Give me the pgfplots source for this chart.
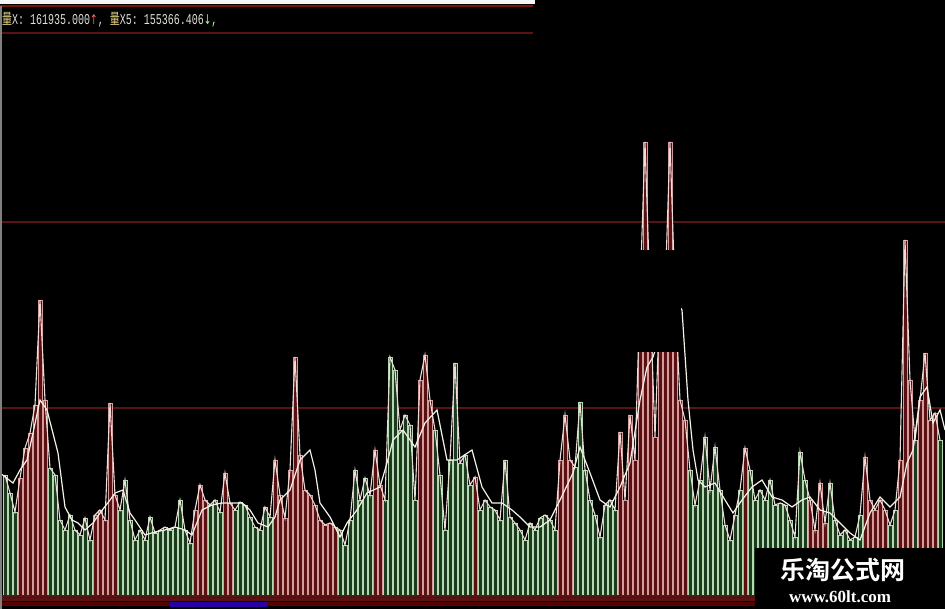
\documentclass[border=0pt]{standalone}
\usepackage{pgfplots}
\pgfplotsset{compat=1.18}
\usepackage{fontspec}
\setmainfont{Liberation Sans}
\newfontfamily\monof{Liberation Mono}
\newfontfamily\symf{DejaVu Sans}
\newfontfamily\cjk{Noto Sans CJK SC}
\newfontfamily\cjkb{Noto Sans CJK SC}[BoldFont={Noto Sans CJK SC Bold}]
\newfontfamily\serifb{Liberation Serif}
\definecolor{redfill}{HTML}{5A1010}
\definecolor{rededge}{HTML}{D49C9C}
\definecolor{greenfill}{HTML}{1C3A1E}
\definecolor{greenedge}{HTML}{B4D8B0}
\definecolor{gridred}{HTML}{581414}
\definecolor{volline}{HTML}{EEDCD8}
\definecolor{maline}{HTML}{F2F2E6}
\definecolor{gold}{HTML}{E6D488}
\definecolor{txt}{HTML}{E0E0D8}
\begin{document}
\begin{tikzpicture}
\begin{axis}[
  width=945pt, height=609pt, scale only axis,
  xmin=0, xmax=945, ymin=-14, ymax=595,
  hide axis, clip=true,
]
% background
\fill[black] (rel axis cs:0,0) rectangle (rel axis cs:1,1);
% grid lines
\draw[gridred, line width=2pt] (axis cs:0,373) -- (axis cs:945,373);
\draw[gridred, line width=2pt] (axis cs:0,187) -- (axis cs:945,187);
\draw[gridred, line width=1.5pt] (axis cs:0,562) -- (axis cs:533,562);
\fill[white!92!gray] (axis cs:0,595) rectangle (axis cs:535,591);
\draw[gridred!80!red, line width=1.5pt] (axis cs:0,589) -- (axis cs:533,589);
% red bars
\addplot[ybar, bar width=3.6, bar shift=0pt, fill=redfill, draw=rededge, line width=0.6pt] coordinates {
(20,117)(25,147)(30,162)(35,190)(40,295)(45,195)(95,80)(100,85)(105,75)(110,192)(115,100)
(195,85)(200,110)(205,95)(225,122)(230,92)(275,135)(280,100)(285,77)(290,125)(295,238)(300,140)
(305,105)(310,100)(315,90)(320,75)(325,70)(330,72)(335,68)(375,145)(380,110)(420,215)(425,240)
(430,195)(475,118)(560,135)(565,180)(570,135)(620,163)(625,95)(630,180)(635,135)(640,300)(645,453)
(650,300)(655,158)(660,300)(665,300)(670,453)(675,300)(680,195)(685,175)(745,147)(810,95)(815,65)
(820,112)(825,72)(865,138)(870,95)(875,85)(880,95)(885,85)(900,135)(905,355)(910,215)(920,195)
(925,242)(930,175)(935,182)};
% green bars
\addplot[ybar, bar width=3.6, bar shift=0pt, fill=greenfill, draw=greenedge, line width=0.6pt] coordinates {
(5,120)(10,102)(15,83)(50,127)(55,120)(60,75)(65,65)(70,80)(75,65)(80,60)(85,77)(90,55)(120,85)
(125,115)(130,75)(135,55)(140,65)(145,55)(150,78)(155,62)(160,65)(165,68)(170,65)(175,68)(180,95)
(185,65)(190,52)(210,90)(215,95)(220,83)(235,85)(240,93)(245,90)(250,78)(255,68)(260,65)(265,88)
(270,78)(340,65)(345,50)(350,75)(355,125)(360,95)(365,117)(370,100)(385,95)(390,238)(395,225)
(400,165)(405,180)(410,170)(415,95)(435,165)(440,120)(445,65)(450,135)(455,232)(460,132)(465,140)
(470,110)(480,85)(485,95)(490,88)(495,85)(500,75)(505,135)(510,78)(515,72)(520,65)(525,55)(530,72)
(535,65)(540,77)(545,80)(550,75)(555,65)(575,128)(580,193)(585,125)(590,95)(595,80)(600,58)(605,90)
(610,95)(615,85)(690,125)(695,90)(700,115)(705,158)(710,105)(715,148)(720,105)(725,70)(730,55)
(735,80)(740,105)(750,125)(755,95)(760,105)(765,95)(770,115)(775,90)(780,92)(785,90)(790,75)
(795,58)(800,143)(805,115)(830,112)(835,75)(840,60)(845,65)(850,55)(855,58)(860,80)(890,70)
(895,85)(915,155)(940,155)};
% volume line
\addplot[volline, line width=1.1pt, mark=none] coordinates {
(5,120)(10,102)(15,83)(20,117)(25,147)(30,162)(35,190)(40,295)(45,195)(50,127)(55,120)(60,75)
(65,65)(70,80)(75,65)(80,60)(85,77)(90,55)(95,80)(100,85)(105,75)(110,192)(115,100)(120,85)
(125,115)(130,75)(135,55)(140,65)(145,55)(150,78)(155,62)(160,65)(165,68)(170,65)(175,68)(180,95)
(185,65)(190,52)(195,85)(200,110)(205,95)(210,90)(215,95)(220,83)(225,122)(230,92)(235,85)(240,93)
(245,90)(250,78)(255,68)(260,65)(265,88)(270,78)(275,135)(280,100)(285,77)(290,125)(295,238)
(300,140)(305,105)(310,100)(315,90)(320,75)(325,70)(330,72)(335,68)(340,65)(345,50)(350,75)
(355,125)(360,95)(365,117)(370,100)(375,145)(380,110)(385,95)(390,238)(395,225)(400,165)(405,180)
(410,170)(415,95)(420,215)(425,240)(430,195)(435,165)(440,120)(445,65)(450,135)(455,232)(460,132)
(465,140)(470,110)(475,118)(480,85)(485,95)(490,88)(495,85)(500,75)(505,135)(510,78)(515,72)
(520,65)(525,55)(530,72)(535,65)(540,77)(545,80)(550,75)(555,65)(560,135)(565,180)(570,135)
(575,128)(580,193)(585,125)(590,95)(595,80)(600,58)(605,90)(610,95)(615,85)(620,163)(625,95)
(630,180)(635,135)(640,300)(645,453)(650,300)(655,158)(660,300)(665,300)(670,453)(675,300)
(680,195)(685,175)(690,125)(695,90)(700,115)(705,158)(710,105)(715,148)(720,105)(725,70)(730,55)
(735,80)(740,105)(745,147)(750,125)(755,95)(760,105)(765,95)(770,115)(775,90)(780,92)(785,90)
(790,75)(795,58)(800,143)(805,115)(810,95)(815,65)(820,112)(825,72)(830,112)(835,75)(840,60)
(845,65)(850,55)(855,58)(860,80)(865,138)(870,95)(875,85)(880,95)(885,85)(890,70)(895,85)(900,135)
(905,355)(910,215)(915,155)(920,195)(925,242)(930,175)(935,182)(940,155)};
% MA5 line
\addplot[maline, line width=1.2pt, mark=none] coordinates {
(0,122)(13,112)(20,125)(27,135)(33,162)(40,195)(47,185)(58,142)(65,88)(72,75)(78,72)(85,65)(93,72)
(100,82)(110,95)(115,102)(123,105)(130,82)(135,75)(145,60)(155,63)(165,65)(175,68)(185,65)(192,60)
(202,85)(212,90)(222,92)(232,92)(242,92)(250,85)(258,72)(268,68)(275,78)(280,95)(290,105)(300,135)
(310,145)(315,125)(320,92)(330,78)(340,58)(347,72)(357,85)(367,102)(380,108)(387,132)(393,155)
(403,165)(410,155)(415,148)(425,172)(437,185)(447,135)(457,135)(472,145)(482,108)(492,92)(502,92)
(512,85)(520,78)(530,68)(540,68)(550,75)(560,95)(573,122)(580,148)(590,122)(600,95)(610,88)
(620,108)(630,132)(640,195)(647,228)(653,238)(665,275)(675,295)(682,285)(688,195)(693,145)
(698,115)(705,108)(715,112)(725,95)(733,82)(742,95)(752,108)(762,115)(772,98)(782,95)(792,88)
(802,95)(810,98)(820,85)(830,82)(840,72)(850,62)(860,55)(870,82)(880,98)(890,88)(900,98)(907,132)
(913,145)(920,198)(927,208)(933,172)(940,185)(945,165)};
% blacked-out patch
\fill[black] (axis cs:628,243) rectangle (axis cs:681,345);
% bottom band
\fill[gridred] (axis cs:0,0) rectangle (axis cs:945,-6);
\draw[red!45!black, line width=1pt] (axis cs:0,-3) -- (axis cs:945,-3);
\fill[red!35!black] (axis cs:0,-7) rectangle (axis cs:945,-11);
\fill[blue!60!violet!80!black] (axis cs:170,-7) rectangle (axis cs:267,-12);
\draw[gray, line width=1.2pt] (axis cs:1,-14) -- (axis cs:1,589);
% header text
\node[anchor=west, inner sep=0pt, yscale=1.5] at (axis cs:2,575) {\fontsize{10pt}{12pt}\selectfont
 {\color{gold}\cjk 量}{\color{txt}\monof X:~161935.000}{\color{red!60!white}\symf\fontsize{9pt}{10pt}\selectfont ↑}{\color{txt}\monof ,~}{\color{gold}\cjk 量}{\color{txt}\monof X5:~155366.406}{\color{green!40!white}\symf\fontsize{9pt}{10pt}\selectfont ↓}{\color{txt}\monof ,}};
% watermark
\fill[black] (axis cs:755,-14) rectangle (axis cs:945,47);
\node[white, inner sep=0pt] at (axis cs:843,25) {\cjkb\bfseries\fontsize{25pt}{28pt}\selectfont 乐淘公式网};
\node[white, inner sep=0pt] at (axis cs:840,-2) {\serifb\bfseries\fontsize{17pt}{19pt}\selectfont www.60lt.com};
\end{axis}
\end{tikzpicture}
\end{document}
